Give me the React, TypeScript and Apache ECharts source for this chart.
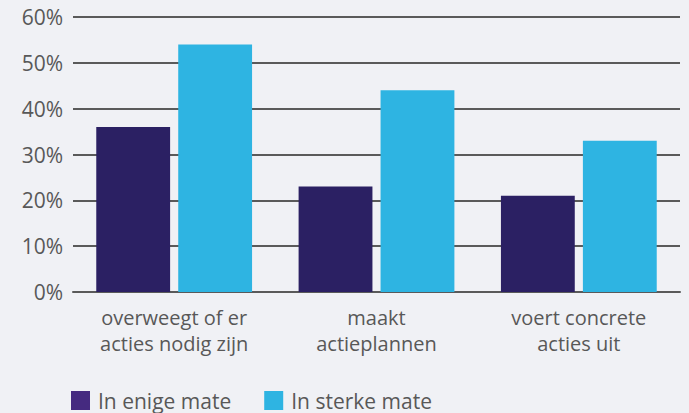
import React, { useEffect, useRef } from "react";
import * as echarts from "echarts";

const categories = ["overweegt of er\nacties nodig zijn", "maakt\nactieplannen", "voert concrete\nacties uit"];
const seriesNames = ["In enige mate", "In sterke mate"];
const enigeMate = [36, 23, 21];
const sterkeMate = [54, 44, 33];
const yTicks = [0, 10, 20, 30, 40, 50, 60];

const FONT = "'Open Sans', 'Noto Sans', sans-serif";
const TEXT = "#585858";

export default function App() {
  const ref = useRef<HTMLDivElement>(null);
  useEffect(() => {
    if (!ref.current) return;
    const chart = echarts.init(ref.current, undefined, { renderer: "svg" });
    chart.setOption({
      animation: false,
      backgroundColor: "#f0f1f5",
      grid: { left: 73, right: 9, top: 17, bottom: 121, containLabel: false },
      legend: {
        left: 71,
        top: 390,
        padding: 0,
        itemWidth: 19,
        itemHeight: 19,
        itemGap: 33,
        textStyle: { fontFamily: FONT, fontSize: 21, color: TEXT, padding: [0, 0, 0, 3] },
        data: [
          { name: seriesNames[0], icon: "rect", itemStyle: { color: "#452a80" } },
          { name: seriesNames[1], icon: "rect", itemStyle: { color: "#2eb4e2" } },
        ],
      },
      xAxis: {
        type: "category",
        data: categories,
        axisLine: { show: true, lineStyle: { color: "#5a5a5a", width: 2 } },
        axisTick: { show: false },
        axisLabel: { fontFamily: FONT, fontSize: 20, color: TEXT, lineHeight: 26, margin: 12 },
      },
      yAxis: {
        type: "value",
        min: yTicks[0],
        max: yTicks[yTicks.length - 1],
        interval: 10,
        axisLine: { show: false },
        axisTick: { show: false },
        splitLine: { show: true, lineStyle: { color: "#5a5a5a", width: 2 } },
        axisLabel: { fontFamily: FONT, fontSize: 21, color: TEXT, margin: 10, formatter: "{value}%" },
      },
      series: [
        {
          name: seriesNames[0],
          type: "bar",
          data: enigeMate,
          itemStyle: { color: "#2b2063" },
          barGap: "11%",
          barCategoryGap: "23%",
        },
        {
          name: seriesNames[1],
          type: "bar",
          data: sterkeMate,
          itemStyle: { color: "#2eb4e2" },
          barGap: "11%",
          barCategoryGap: "23%",
        },
      ],
    });
    return () => chart.dispose();
  }, []);
  return <div ref={ref} style={{ width: 689, height: 413, position: "absolute", left: 0, top: 0 }} />;
}
